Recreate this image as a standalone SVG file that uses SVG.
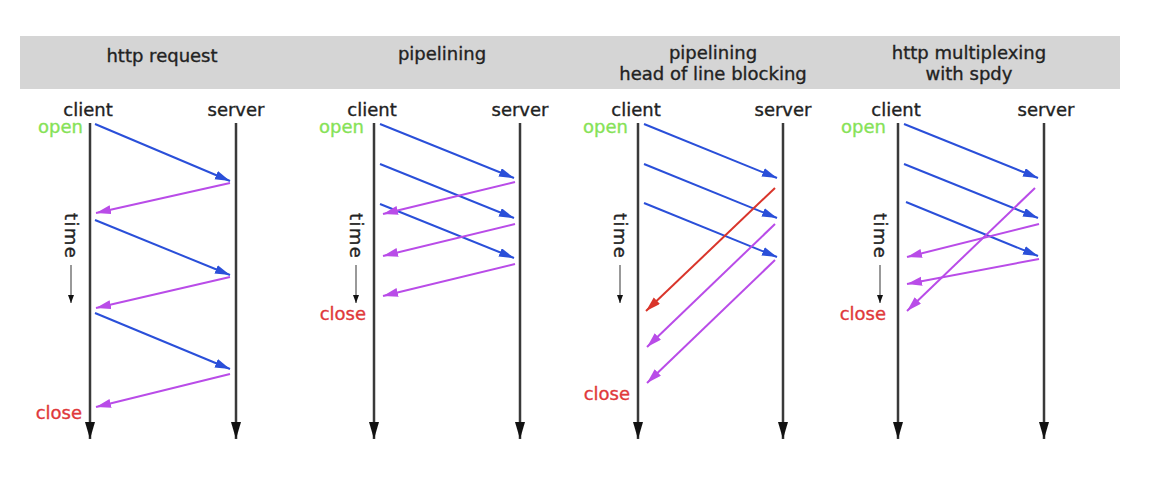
<svg xmlns="http://www.w3.org/2000/svg" width="1160" height="484" viewBox="0 0 1160 484">
<style>
text{font-family:"DejaVu Sans","Liberation Sans",sans-serif;fill:#222;stroke:#222;stroke-width:0.35}
.h{font-size:18px;text-anchor:middle}
.lbl{font-size:18px;text-anchor:middle}
.open{font-size:18px;text-anchor:end;fill:#86e257;stroke:#86e257}
.close{font-size:18px;text-anchor:end;fill:#e0383a;stroke:#e0383a}
.time{font-size:18px;letter-spacing:1.4px}
.life{stroke:#3a3a3a;stroke-width:2.5;fill:none;marker-end:url(#mk)}
.tarr{stroke:#555;stroke-width:1.2;fill:none;marker-end:url(#mt)}
.b{stroke:#2a4fd9;stroke-width:2;fill:none;marker-end:url(#mb)}
.m{stroke:#b94ce8;stroke-width:2;fill:none;marker-end:url(#mm)}
.r{stroke:#d9352b;stroke-width:2;fill:none;marker-end:url(#mr)}
</style>
<defs>
<marker id="mk" markerUnits="userSpaceOnUse" markerWidth="18" markerHeight="10" refX="17" refY="5" orient="auto" viewBox="0 0 18 10"><path d="M0,0 L17,5 L0,10 z" fill="#111"/></marker>
<marker id="mt" markerUnits="userSpaceOnUse" markerWidth="10" markerHeight="8" refX="8" refY="3" orient="auto" viewBox="0 0 10 8"><path d="M0,0 L8,3 L0,6 z" fill="#111"/></marker>
<marker id="mb" markerUnits="userSpaceOnUse" markerWidth="16" markerHeight="10" refX="15" refY="4.5" orient="auto" viewBox="0 0 16 10"><path d="M0,0 L15,4.5 L0,9 z" fill="#2a4fd9"/></marker>
<marker id="mm" markerUnits="userSpaceOnUse" markerWidth="16" markerHeight="10" refX="15" refY="4.5" orient="auto" viewBox="0 0 16 10"><path d="M0,0 L15,4.5 L0,9 z" fill="#b94ce8"/></marker>
<marker id="mr" markerUnits="userSpaceOnUse" markerWidth="16" markerHeight="10" refX="15" refY="4.5" orient="auto" viewBox="0 0 16 10"><path d="M0,0 L15,4.5 L0,9 z" fill="#d9352b"/></marker>
</defs>
<rect width="1160" height="484" fill="#fff"/>
<rect id="header-band" x="20" y="36" width="1100" height="53" fill="#d5d5d5"/>

<g id="panel1">
<text class="h" x="162" y="62">http request</text>
<g id="p1-client"><line class="life" x1="90" y1="123" x2="90" y2="439"/><text class="lbl" x="88" y="116">client</text></g>
<g id="p1-server"><line class="life" x1="236" y1="123" x2="236" y2="439"/><text class="lbl" x="236" y="116">server</text></g>
<text class="open" x="83" y="133">open</text>
<text class="close" x="82" y="419">close</text>
<text class="time" transform="translate(71,213) rotate(90)" x="0" y="6">time</text>
<line class="tarr" x1="71" y1="265" x2="71" y2="303"/>
</g>

<g id="panel2">
<text class="h" x="442" y="60">pipelining</text>
<g id="p2-client"><line class="life" x1="374" y1="123" x2="374" y2="439"/><text class="lbl" x="372" y="116">client</text></g>
<g id="p2-server"><line class="life" x1="520" y1="123" x2="520" y2="439"/><text class="lbl" x="520" y="116">server</text></g>
<text class="open" x="364" y="133">open</text>
<text class="close" x="366" y="320">close</text>
<text class="time" transform="translate(356,213) rotate(90)" x="0" y="6">time</text>
<line class="tarr" x1="356" y1="265" x2="356" y2="303"/>
</g>

<g id="panel3">
<text class="h" x="713" y="59">pipelining</text>
<text class="h" x="713" y="80">head of line blocking</text>
<g id="p3-client"><line class="life" x1="638" y1="123" x2="638" y2="439"/><text class="lbl" x="636" y="116">client</text></g>
<g id="p3-server"><line class="life" x1="783" y1="123" x2="783" y2="439"/><text class="lbl" x="783" y="116">server</text></g>
<text class="open" x="628" y="133">open</text>
<text class="close" x="630" y="400">close</text>
<text class="time" transform="translate(620,213) rotate(90)" x="0" y="6">time</text>
<line class="tarr" x1="620" y1="265" x2="620" y2="303"/>
</g>

<g id="panel4">
<text class="h" x="969" y="59">http multiplexing</text>
<text class="h" x="969" y="80">with spdy</text>
<g id="p4-client"><line class="life" x1="898" y1="123" x2="898" y2="439"/><text class="lbl" x="896" y="116">client</text></g>
<g id="p4-server"><line class="life" x1="1044" y1="123" x2="1044" y2="439"/><text class="lbl" x="1046" y="116">server</text></g>
<text class="open" x="886" y="133">open</text>
<text class="close" x="886" y="320">close</text>
<text class="time" transform="translate(880,213) rotate(90)" x="0" y="6">time</text>
<line class="tarr" x1="880" y1="265" x2="880" y2="303"/>
</g>

<g id="connectors">
<line class="b" x1="95" y1="124" x2="230" y2="181"/>
<line class="m" x1="230" y1="183" x2="96" y2="213"/>
<line class="b" x1="95" y1="220" x2="230" y2="275"/>
<line class="m" x1="230" y1="277" x2="96" y2="308"/>
<line class="b" x1="95" y1="313" x2="230" y2="369"/>
<line class="m" x1="230" y1="374" x2="96" y2="407"/>

<line class="b" x1="380" y1="124" x2="514" y2="178"/>
<line class="b" x1="380" y1="164" x2="514" y2="218"/>
<line class="b" x1="380" y1="204" x2="514" y2="258"/>
<line class="m" x1="515" y1="182" x2="383" y2="214"/>
<line class="m" x1="515" y1="224" x2="383" y2="256"/>
<line class="m" x1="515" y1="264" x2="383" y2="296"/>

<line class="b" x1="644" y1="124" x2="777" y2="178"/>
<line class="b" x1="644" y1="164" x2="777" y2="218"/>
<line class="b" x1="644" y1="203" x2="777" y2="257"/>
<line class="r" x1="775" y1="188" x2="646" y2="311"/>
<line class="m" x1="775" y1="224" x2="647" y2="347"/>
<line class="m" x1="775" y1="260" x2="647" y2="383"/>

<line class="b" x1="904" y1="124" x2="1038" y2="178"/>
<line class="b" x1="904" y1="164" x2="1038" y2="218"/>
<line class="b" x1="906" y1="202" x2="1038" y2="256"/>
<line class="m" x1="1035" y1="188" x2="907" y2="311"/>
<line class="m" x1="1039" y1="224" x2="907" y2="257"/>
<line class="m" x1="1039" y1="259" x2="907" y2="284"/>
</g>
</svg>
